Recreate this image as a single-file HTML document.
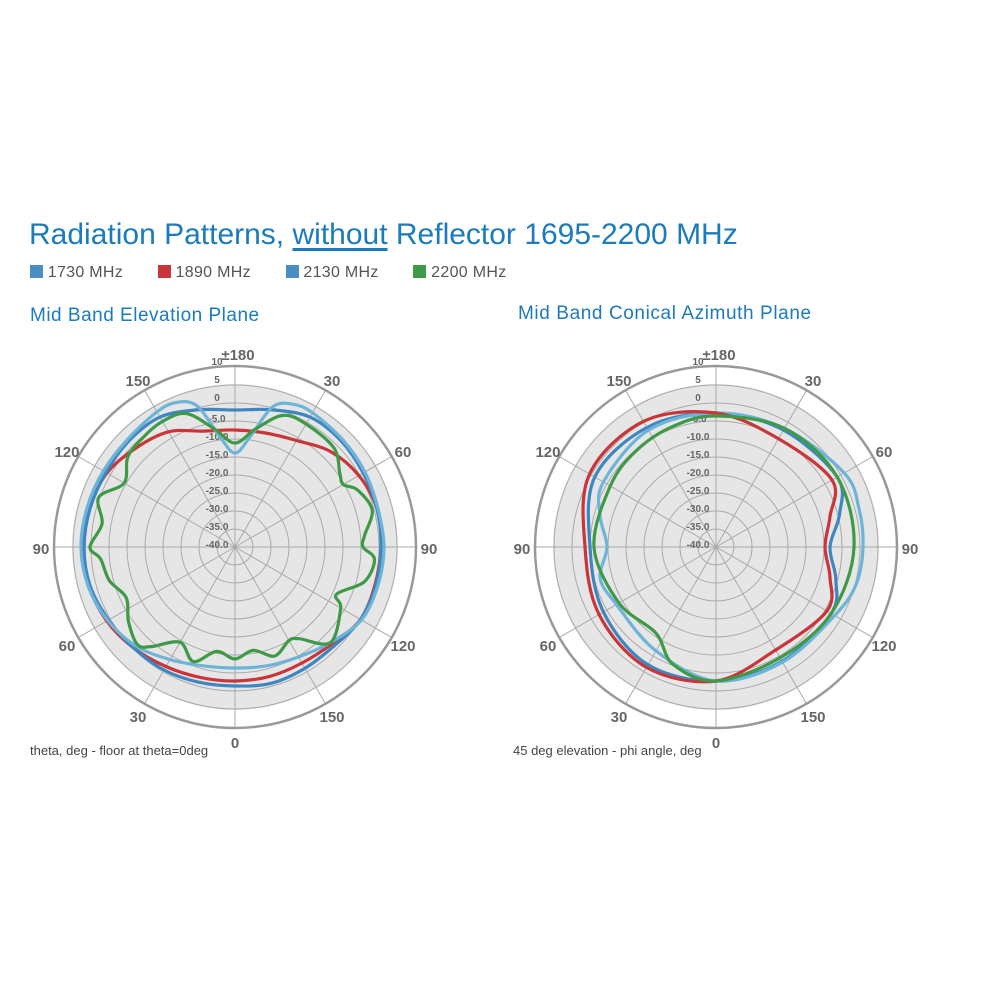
<!DOCTYPE html>
<html><head><meta charset="utf-8"><style>
body{margin:0;background:#fff;width:1000px;height:1000px;overflow:hidden;font-family:"Liberation Sans",sans-serif}
.t{position:absolute;white-space:nowrap}
</style></head><body>
<div class="t" style="left:29px;top:218px;font-size:30px;color:#1b7bbd;letter-spacing:0px">Radiation Patterns, <span style="text-decoration:underline;text-underline-offset:4px">without</span> Reflector 1695-2200 MHz</div>
<div class="t" style="left:30px;top:264px;font-size:16px;color:#555;letter-spacing:0.3px">
<span style="display:inline-block;width:13px;height:13px;background:#4a8fc4;vertical-align:-1px"></span> 1730 MHz
<span style="display:inline-block;width:13px;height:13px;background:#c93539;vertical-align:-1px;margin-left:30px"></span> 1890 MHz
<span style="display:inline-block;width:13px;height:13px;background:#4a8fc4;vertical-align:-1px;margin-left:30px"></span> 2130 MHz
<span style="display:inline-block;width:13px;height:13px;background:#3f9a48;vertical-align:-1px;margin-left:30px"></span> 2200 MHz</div>
<div class="t" style="left:30px;top:305px;font-size:19px;color:#1b7bbd;letter-spacing:0.5px">Mid Band Elevation Plane</div>
<div class="t" style="left:518px;top:303px;font-size:19px;color:#1b7bbd;letter-spacing:0.6px">Mid Band Conical Azimuth Plane</div>
<div class="t" style="left:30px;top:743px;font-size:13px;color:#444">theta, deg - floor at theta=0deg</div>
<div class="t" style="left:513px;top:743px;font-size:13px;color:#444">45 deg elevation - phi angle, deg</div>
<svg id="s" width="1000" height="1000" style="position:absolute;left:0;top:0"></svg>
<script>
var s=document.getElementById('s'),h='';
function P(cx,cy,r,a){a=a*Math.PI/180;return [cx+r*Math.sin(a),cy-r*Math.cos(a)];}
function grid(cx,cy){
 h+='<circle cx="'+cx+'" cy="'+cy+'" r="163" fill="#e6e6e6"/>';
 for(var k=1;k<=9;k++)h+='<circle cx="'+cx+'" cy="'+cy+'" r="'+(k*18)+'" fill="none" stroke="#aaa" stroke-width="1"/>';
 for(var a=0;a<360;a+=30){var p=P(cx,cy,181,a);h+='<line x1="'+cx+'" y1="'+cy+'" x2="'+p[0]+'" y2="'+p[1]+'" stroke="#aaa" stroke-width="1"/>';}
 h+='<circle cx="'+cx+'" cy="'+cy+'" r="181" fill="none" stroke="#999" stroke-width="2.5"/>';
 var L=['±180','30','60','90','120','150','0','30','60','90','120','150'];
 for(var i=0;i<12;i++){var p=P(cx,cy,194,i*30),t=L[i],dx=0;if(i==0)dx=3;
  h+='<text x="'+(p[0]+dx)+'" y="'+(p[1]+7)+'" font-size="15" font-weight="bold" fill="#666" text-anchor="middle" font-family="Liberation Sans,sans-serif">'+t+'</text>';}
 var R=['10','5','0','-5.0','-10.0','-15.0','-20.0','-25.0','-30.0','-35.0','-40.0'];
 for(var i=0;i<11;i++){h+='<text x="'+(cx-18)+'" y="'+(cy-182+i*18+ (i<3?0:3))+'" font-size="10" font-weight="bold" fill="#666" text-anchor="middle" font-family="Liberation Sans,sans-serif">'+R[i]+'</text>';}
}
function curve(cx,cy,pts,col){
 var n=pts.length,q=[];
 for(var i=0;i<n;i++)q.push(P(cx,cy,pts[i][1],pts[i][0]));
 var d='M'+q[0][0].toFixed(1)+','+q[0][1].toFixed(1);
 for(var i=0;i<n;i++){var p0=q[(i-1+n)%n],p1=q[i],p2=q[(i+1)%n],p3=q[(i+2)%n];
  d+='C'+(p1[0]+(p2[0]-p0[0])/6).toFixed(1)+','+(p1[1]+(p2[1]-p0[1])/6).toFixed(1)+' '+(p2[0]-(p3[0]-p1[0])/6).toFixed(1)+','+(p2[1]-(p3[1]-p1[1])/6).toFixed(1)+' '+p2[0].toFixed(1)+','+p2[1].toFixed(1);}
 h+='<path d="'+d+'Z" fill="none" stroke="'+col+'" stroke-width="3.2"/>';
}
function A(o){var r=[];for(var k in o)r.push([+k,o[k]]);r.sort(function(a,b){return a[0]-b[0]});return r;}
grid(235,547);grid(716,547);
var LB={0:137,15:142,30:150,45:150,60:148,75:147,90:146,105:146,120:145,135:140,150:140,165:141,180:139,195:140,210:142,225:143,240:146,255:150,270:151,285:150,300:149,315:150,330:150,345:142};
var LL={0:94,8:112,15:145,22:154,30:155,45:152,60:150,75:148,90:149,105:148,120:146,135:135,150:127,165:123,180:121,195:123,210:130,225:140,240:147,255:152,270:154,285:153,300:152,315:152,330:156,338:156,345:146,352:112};
var LR={0:117,15:118,30:123,45:135,60:143,75:147,90:146,105:145,120:145,135:137,150:134,165:134,180:134,195:135,210:138,225:143,240:148,255:151,270:151,285:150,300:148,315:140,330:133,345:120};
var LG={0:104,10:120,20:140,30:142,45:140,55:128,60:125,65:135,75:142,85:130,90:128,95:140,105:134,115:112,120:122,135:135,145:112,150:108,160:116,170:105,180:112,190:106,200:122,210:110,220:130,225:138,235:130,245:120,255:130,265:135,270:145,280:135,290:145,300:128,310:140,320:143,330:145,340:142,350:120};
var RR={0:134,30:125,60:134,75:118,90:109,105:118,120:128,150:119,180:134,210:139,240:135,270:131,300:146,330:145};
var RB={0:134,30:135,60:140,75:128,90:114,105:124,120:133,150:132,180:134,210:136,240:130,270:126,300:140,330:138};
var RL={0:134,30:137,60:148,75:148,90:147,105:145,120:137,150:133,180:134,210:120,240:115,255:120,270:109,285:120,300:130,330:135};
var RG={0:131,30:137,60:140,90:138,120:133,150:128,180:134,200:125,215:105,240:112,270:122,300:122,320:125,340:128};
curve(235,547,A(LR),'#c93539');curve(235,547,A(LB),'#3e86c2');curve(235,547,A(LL),'#6db4d8');curve(235,547,A(LG),'#3f9a48');
curve(716,547,A(RB),'#3e86c2');curve(716,547,A(RL),'#6db4d8');curve(716,547,A(RR),'#c93539');curve(716,547,A(RG),'#3f9a48');
s.innerHTML=h;
</script>
</body></html>
